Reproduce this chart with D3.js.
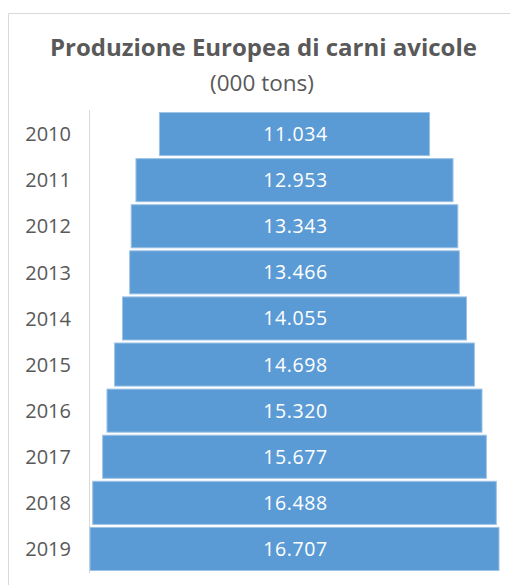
<!DOCTYPE html>
<html lang="it">
<head>
    <meta charset="utf-8">
    <title>Produzione Europea di carni avicole</title>
    <script src="https://d3js.org/d3.v7.min.js"></script>
    <style>
        body { margin: 0; background: #fff; }
        text { font-family: "Open Sans", sans-serif; }
    </style>
</head>
<body>
    <div id="chart"></div>
    <script>
        // Data
        const years = ["2010", "2011", "2012", "2013", "2014", "2015", "2016", "2017", "2018", "2019"];
        const values = [11034, 12953, 13343, 13466, 14055, 14698, 15320, 15677, 16488, 16707];
        const labels = ["11.034", "12.953", "13.343", "13.466", "14.055", "14.698", "15.320", "15.677", "16.488", "16.707"];

        const width = 510, height = 585;
        const svg = d3.select("#chart").append("svg")
            .attr("width", width)
            .attr("height", height);

        // chart frame
        svg.append("path")
            .attr("d", "M8.5,585 L8.5,13.5 L510,13.5")
            .attr("fill", "none")
            .attr("stroke", "#d9d9d9")
            .attr("stroke-width", 1);

        // titles
        svg.append("text")
            .attr("x", 263.5).attr("y", 55.5)
            .attr("text-anchor", "middle")
            .attr("font-size", 24).attr("font-weight", "bold")
            .attr("fill", "#595959")
            .text("Produzione Europea di carni avicole");
        svg.append("text")
            .attr("x", 262).attr("y", 91)
            .attr("text-anchor", "middle")
            .attr("font-size", 22.5)
            .attr("fill", "#595959")
            .text("(000 tons)");

        const centerX = 294.5;
        const half = d3.scaleLinear().domain([0, 16707]).range([0, 204.5]);
        const y = d3.scaleBand().domain(years).range([109.5, 573.5]).padding(0.065);

        // axis line
        svg.append("line")
            .attr("x1", 89.5).attr("x2", 89.5)
            .attr("y1", 110).attr("y2", 573)
            .attr("stroke", "#d9d9d9");

        const rows = svg.selectAll("g.row")
            .data(years.map((yr, i) => ({ yr, v: values[i], lab: labels[i] })))
            .join("g").attr("class", "row");

        rows.append("rect")
            .attr("x", d => centerX - half(d.v))
            .attr("y", d => y(d.yr))
            .attr("width", d => 2 * half(d.v))
            .attr("height", y.bandwidth())
            .attr("fill", "#5b9bd5")
            .attr("stroke", "#9dc3e6")
            .attr("stroke-width", 1);

        rows.append("text")
            .attr("x", centerX + 1)
            .attr("y", d => y(d.yr) + y.bandwidth() / 2)
            .attr("dy", "0.36em")
            .attr("text-anchor", "middle")
            .attr("font-size", 19.5)
            .attr("letter-spacing", 0.6)
            .attr("fill", "#fff")
            .text(d => d.lab);

        rows.append("text")
            .attr("x", 71)
            .attr("y", d => y(d.yr) + y.bandwidth() / 2)
            .attr("dy", "0.36em")
            .attr("text-anchor", "end")
            .attr("font-size", 20)
            .attr("fill", "#595959")
            .text(d => d.yr);
    </script>
</body>
</html>
